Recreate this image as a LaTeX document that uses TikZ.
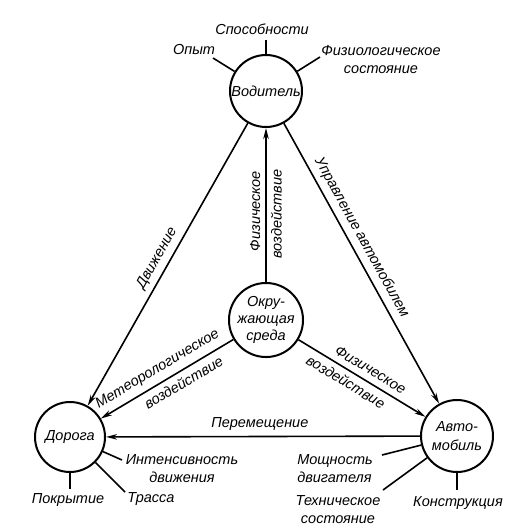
\documentclass[tikz,border=0pt]{standalone}
\usepackage{fontspec}
\setmainfont{Liberation Sans}
\usetikzlibrary{arrows.meta}
\begin{document}
\begin{tikzpicture}[x=1pt,y=-1pt,
  every node/.style={font=\itshape\fontsize{14.5}{18}\selectfont},
  circ/.style={draw,circle,line width=2pt,minimum size=72pt,inner sep=0pt,align=center},
  lbl/.style={inner sep=0pt,align=center},
  elbl/.style={inner sep=1pt,sloped},
  conn/.style={line width=1.6pt,-{Stealth[length=11pt,width=5.5pt,inset=3.5pt]}},
  stub/.style={line width=1.6pt}]
\useasboundingbox[fill=white] (0,0) rectangle (529,528);
% main circles
\node[circ] (vod) at (266,91) {Водитель};
\node[circ] (sreda) at (266,320) {Окру-\\[-1pt]жающая\\[-1pt]среда};
\node[circ,minimum size=70pt] (dor) at (70,437) {Дорога};
\node[circ] (auto) at (457,436) {Авто-\\[1pt]мобиль};
% connectors
\draw[conn] (vod) -- (dor) node[elbl,pos=0.5,above=4pt] {Движение};
\draw[conn] (vod) -- (auto) node[elbl,pos=0.43,above=4pt] {Управление автомобилем};
\draw[conn] (sreda) -- (vod)
  node[elbl,pos=0.46,above=4pt] {Физическое}
  node[elbl,pos=0.44,below=3pt] {воздействие};
\draw[conn] (sreda) -- (dor)
  node[elbl,pos=0.52,above=5pt] {Метеорологическое}
  node[elbl,pos=0.42,below=4pt] {воздействие};
\draw[conn] (sreda) -- (auto)
  node[elbl,pos=0.52,above=5pt] {Физическое}
  node[elbl,pos=0.42,below=4pt] {воздействие};
\draw[conn] (auto) -- (dor) node[elbl,pos=0.51,above=4pt] {Перемещение};
% stubs of Водитель
\coordinate (opE) at (213,58);
\coordinate (spE) at (266,40);
\coordinate (fiE) at (320,57);
\draw[stub] (vod) -- (opE);
\draw[stub] (vod) -- (spE);
\draw[stub] (vod) -- (fiE);
\node[lbl] (op) at (194,50) {Опыт};
\node[lbl] (sp) at (262,29) {Способности};
\node[lbl] (fi) at (381,60) {Физиологическое\\состояние};
% stubs of Дорога
\coordinate (poE) at (70,489);
\coordinate (trE) at (125,492);
\coordinate (inE) at (122,460);
\draw[stub] (dor) -- (poE);
\draw[stub] (dor) -- (trE);
\draw[stub] (dor) -- (inE);
\node[lbl] (po) at (68,500) {Покрытие};
\node[lbl] (tr) at (151,499) {Трасса};
\node[lbl] (in) at (182,469) {Интенсивность\\движения};
% stubs of Автомобиль
\coordinate (moE) at (382,455);
\coordinate (teE) at (383,490);
\coordinate (koE) at (457,490);
\draw[stub] (auto) -- (moE);
\draw[stub] (auto) -- (teE);
\draw[stub] (auto) -- (koE);
\node[lbl,align=left] (mo) at (335,469) {Мощность\\двигателя};
\node[lbl] (te) at (338,510) {Техническое\\состояние};
\node[lbl] (ko) at (458,503) {Конструкция};
\end{tikzpicture}
\end{document}
